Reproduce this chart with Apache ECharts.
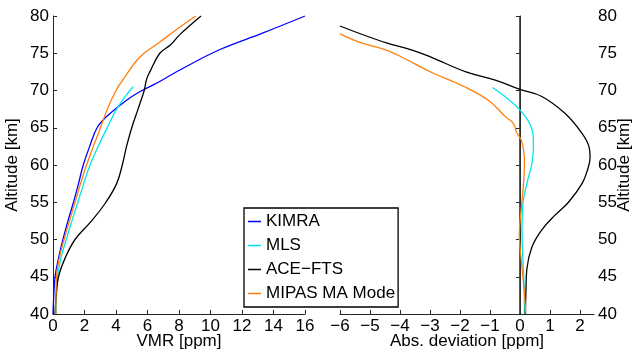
<!DOCTYPE html>
<html>
<head>
<meta charset="utf-8">
<title>VMR profiles</title>
<script src="https://cdn.jsdelivr.net/npm/echarts@6/dist/echarts.min.js"></script>
<style>
  html, body { margin: 0; padding: 0; background: #fff; }
  #chart { width: 635px; height: 353px; }
</style>
</head>
<body>
<div id="chart"></div>
<script>
// left panel: VMR profiles [ppm] vs altitude [km]
const kimraAlt = [40, 42.5, 45, 47.5, 50, 52.5, 55, 57.5, 60, 62.5, 65, 66.5, 68.7, 70, 71, 72.75, 75.5, 77.7, 80];
const kimraVmr = [0.0, 0.05, 0.13, 0.35, 0.63, 0.95, 1.3, 1.62, 1.92, 2.33, 2.8, 3.4, 4.67, 5.65, 6.6, 8.05, 10.6, 13.3, 16.0];

const mlsAlt = [40, 42.5, 45, 47.5, 50, 52.5, 55, 57.5, 60, 62.5, 65, 67.5, 70, 70.5];
const mlsVmr = [0.2, 0.22, 0.29, 0.5, 0.84, 1.2, 1.58, 1.95, 2.35, 2.87, 3.44, 4.04, 4.88, 5.1];

const aceAlt = [40, 42.5, 45, 47.5, 50, 52.5, 55, 57.5, 60, 62.5, 65, 67.5, 70, 71.5, 72.5, 75, 76.1, 77.5, 80];
const aceVmr = [0.13, 0.2, 0.35, 0.77, 1.4, 2.45, 3.36, 4.04, 4.4, 4.67, 5.0, 5.4, 5.79, 5.94, 6.15, 6.78, 7.45, 8.05, 9.4];

const mipasAlt = [40, 42.5, 45, 47.5, 50, 52.5, 55, 57.5, 60, 62.5, 64.2, 67.5, 70, 71.5, 74.5, 76.5, 78.5, 80];
const mipasVmr = [0.18, 0.19, 0.22, 0.4, 0.7, 1.05, 1.4, 1.75, 2.13, 2.56, 2.87, 3.45, 4.0, 4.46, 5.52, 6.78, 8.05, 9.07];

// right panel: absolute deviation [ppm] vs altitude [km]
const mlsDevAlt = [40, 43.7, 47.25, 50.8, 54.4, 57.5, 60.2, 62.5, 64, 65.6, 67.4, 68.7, 70.4];
const mlsDev = [0.15, 0.14, 0.1, 0.07, 0.09, 0.23, 0.4, 0.45, 0.44, 0.32, 0.0, -0.35, -0.91];

const aceDevAlt = [40, 43, 46, 49, 51.3, 53.3, 55, 57.5, 59.3, 61, 62.5, 64.25, 66.9, 69.2, 70.15, 71.4, 72.5, 74.45, 75.4, 76.4, 77.45, 78.66];
const aceDev = [0.18, 0.2, 0.23, 0.4, 0.73, 1.18, 1.62, 2.07, 2.25, 2.34, 2.3, 2.07, 1.51, 0.73, 0, -0.82, -1.8, -2.95, -3.57, -4.45, -5.21, -6.0];

const mipasDevAlt = [40, 43.7, 47, 50.8, 54, 57.5, 60.7, 62, 63.4, 64.25, 65.6, 66.5, 68.6, 70.6, 72.45, 74.3, 75.5, 76.4, 77.6];
const mipasDev = [0.2, 0.13, 0.05, -0.02, 0.04, 0.12, 0.15, 0.12, 0.04, -0.1, -0.22, -0.49, -1.02, -1.9, -2.96, -3.85, -4.5, -5.3, -6.0];

const zeroAlt = [40, 80];
const zeroDev = [0, 0];

const names = ['KIMRA', 'MLS', 'ACE\u2212FTS', 'MIPAS MA Mode'];
const colors = ['#0000ff', '#00e5ee', '#000000', '#ff7f0e'];

const font = "'Liberation Sans', Arial, sans-serif";
const axisColor = '#262626';

function pairs(xs, ys) {
  return xs.map((x, i) => [x, ys[i]]);
}

function lineSeries(name, color, data, idx) {
  return {
    name: name,
    type: 'line',
    xAxisIndex: idx,
    yAxisIndex: idx,
    data: data,
    smooth: 0.4,
    symbol: 'none',
    lineStyle: { color: color, width: 1.3 },
    itemStyle: { color: color },
    z: 3
  };
}

function minus(v) {
  return String(v).replace('-', '\u2212');
}

const chart = echarts.init(document.getElementById('chart'));

const xBase = {
  type: 'value',
  nameLocation: 'middle',
  nameGap: 19,
  nameMoveOverlap: false,
  nameTextStyle: { fontSize: 17, color: '#000', fontFamily: font },
  axisLine: { lineStyle: { color: axisColor, width: 1 } },
  axisTick: { inside: true, length: 4, lineStyle: { color: axisColor } },
  axisLabel: { fontSize: 17, color: '#000', fontFamily: font, margin: 4, formatter: minus },
  splitLine: { show: false }
};

const yBase = {
  type: 'value',
  min: 40,
  max: 80,
  interval: 5,
  name: 'Altitude [km]',
  nameLocation: 'middle',
  nameRotate: 90,
  nameMoveOverlap: false,
  nameTextStyle: { fontSize: 17, color: '#000', fontFamily: font },
  axisLine: { show: true, lineStyle: { color: axisColor, width: 1 } },
  axisTick: { show: true, inside: true, length: 4, lineStyle: { color: axisColor } },
  axisLabel: { fontSize: 17, color: '#000', fontFamily: font, margin: 4 },
  splitLine: { show: false }
};

chart.setOption({
  animation: false,
  backgroundColor: '#fff',
  grid: [
    { left: 53, right: 330, top: 16, bottom: 39, outerBoundsMode: 'none', containLabel: false },
    { left: 340, right: 41, top: 16, bottom: 39, outerBoundsMode: 'none', containLabel: false }
  ],
  xAxis: [
    Object.assign({}, xBase, { gridIndex: 0, min: 0, max: 16, interval: 2, name: 'VMR [ppm]' }),
    Object.assign({}, xBase, {
      gridIndex: 1, min: -6, max: 2.47, interval: 1, name: 'Abs. deviation [ppm]',
      axisLabel: Object.assign({}, xBase.axisLabel, { showMaxLabel: false })
    })
  ],
  yAxis: [
    Object.assign({}, yBase, { gridIndex: 0, position: 'left', nameGap: 32 }),
    Object.assign({}, yBase, { gridIndex: 1, position: 'right', nameGap: 22 })
  ],
  legend: {
    orient: 'vertical',
    left: 244,
    top: 208,
    data: names,
    icon: 'rect',
    backgroundColor: '#fff',
    borderColor: '#000',
    borderWidth: 1.3,
    borderRadius: 0,
    padding: [5, 3, 5, 4],
    itemWidth: 13,
    itemHeight: 1.5,
    itemGap: 7,
    selectedMode: false,
    textStyle: { fontSize: 17, lineHeight: 17, color: '#000', fontFamily: font }
  },
  series: [
    lineSeries(names[0], colors[0], pairs(kimraVmr, kimraAlt), 0),
    lineSeries(names[1], colors[1], pairs(mlsVmr, mlsAlt), 0),
    lineSeries(names[2], colors[2], pairs(aceVmr, aceAlt), 0),
    lineSeries(names[3], colors[3], pairs(mipasVmr, mipasAlt), 0),
    // zero reference line
    {
      name: 'zero',
      type: 'line',
      xAxisIndex: 1,
      yAxisIndex: 1,
      data: pairs(zeroDev, zeroAlt),
      symbol: 'none',
      lineStyle: { color: '#333', width: 1.5 },
      z: 2
    },
    lineSeries(names[1], colors[1], pairs(mlsDev, mlsDevAlt), 1),
    lineSeries(names[2], colors[2], pairs(aceDev, aceDevAlt), 1),
    lineSeries(names[3], colors[3], pairs(mipasDev, mipasDevAlt), 1)
  ]
});
</script>
</body>
</html>
